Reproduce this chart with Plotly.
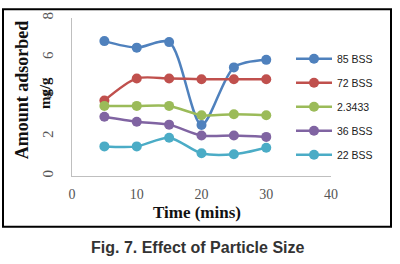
import plotly.graph_objects as go

time = [5, 10, 15, 20, 25, 30]
series_names = ["85 BSS", "72 BSS", "2.3433", "36 BSS", "22 BSS"]
s85 = [6.83, 6.5, 6.78, 2.58, 5.5, 5.88]
s72 = [3.82, 4.94, 4.94, 4.9, 4.9, 4.9]
s2343 = [3.55, 3.55, 3.55, 3.08, 3.13, 3.08]
s36 = [3.0, 2.75, 2.6, 2.05, 2.05, 1.98]
s22 = [1.5, 1.5, 1.94, 1.15, 1.1, 1.43]
colors = ["#4F81BD", "#C0504D", "#9BBB59", "#8064A2", "#4BACC6"]
x_ticks = [0, 10, 20, 30, 40]
y_ticks = [0, 2, 4, 6, 8]

fig = go.Figure()
for i, (name, vals) in enumerate(zip(series_names, [s85, s72, s2343, s36, s22])):
    fig.add_trace(go.Scatter(
        x=time, y=vals, name=name, mode="lines+markers",
        line=dict(color=colors[i], width=2.5, shape="spline", smoothing=0.8),
        marker=dict(color=colors[i], size=10, symbol="circle"),
        legendgroup=f"g{i}",
    ))

L, R, T, B = 72, 331, 14, 176
W, H = 400, 264
pw, ph = R - L, B - T

def px(x):
    return (x - L) / pw

def py(y):
    return (B - y) / ph

def ann(text, x, y, size, family, color="#111", angle=0):
    return dict(text=text, xref="paper", yref="paper", x=px(x), y=py(y),
                xanchor="center", yanchor="middle", showarrow=False, textangle=angle,
                font=dict(family=family, size=size, color=color))

fig.update_layout(
    width=W, height=H,
    margin=dict(l=L, r=W - R, t=T, b=H - B),
    paper_bgcolor="white", plot_bgcolor="white",
    showlegend=True,
    legend=dict(x=px(291), y=py(41), xanchor="left", yanchor="top",
                font=dict(family="Liberation Sans", size=10.5, color="#222"),
                tracegroupgap=5, itemwidth=36, bgcolor="rgba(0,0,0,0)"),
    xaxis=dict(range=[0, 40], tickvals=x_ticks, showgrid=False, zeroline=False,
               showline=True, linecolor="#BFBFBF", linewidth=1, ticks="",
               ticklabelstandoff=5,
               tickfont=dict(family="Liberation Serif", size=14, color="#555")),
    yaxis=dict(range=[0, 8], tickvals=y_ticks, showgrid=False, zeroline=False,
               showline=True, linecolor="#BFBFBF", linewidth=1, ticks="",
               tickangle=-90, ticklabelstandoff=12,
               tickfont=dict(family="Liberation Serif", size=15, color="#555")),
    shapes=[dict(type="rect", xref="paper", yref="paper",
                 x0=px(3), x1=px(391), y0=py(228), y1=py(5),
                 line=dict(color="black", width=2), layer="below")],
    annotations=[
        ann("<b>Time (mins)</b>", 197, 213, 17, "Liberation Serif"),
        ann("<b>Amount adsorbed</b>", 22, 88, 18, "Liberation Serif", angle=-90),
        ann("<b>mg/g</b>", 45, 91, 15, "Liberation Serif", angle=-90),
        ann("<b>Fig. 7. Effect of Particle Size</b>", 197, 249, 16, "Liberation Sans", color="#333"),
    ],
)

fig.write_html("out.html")
